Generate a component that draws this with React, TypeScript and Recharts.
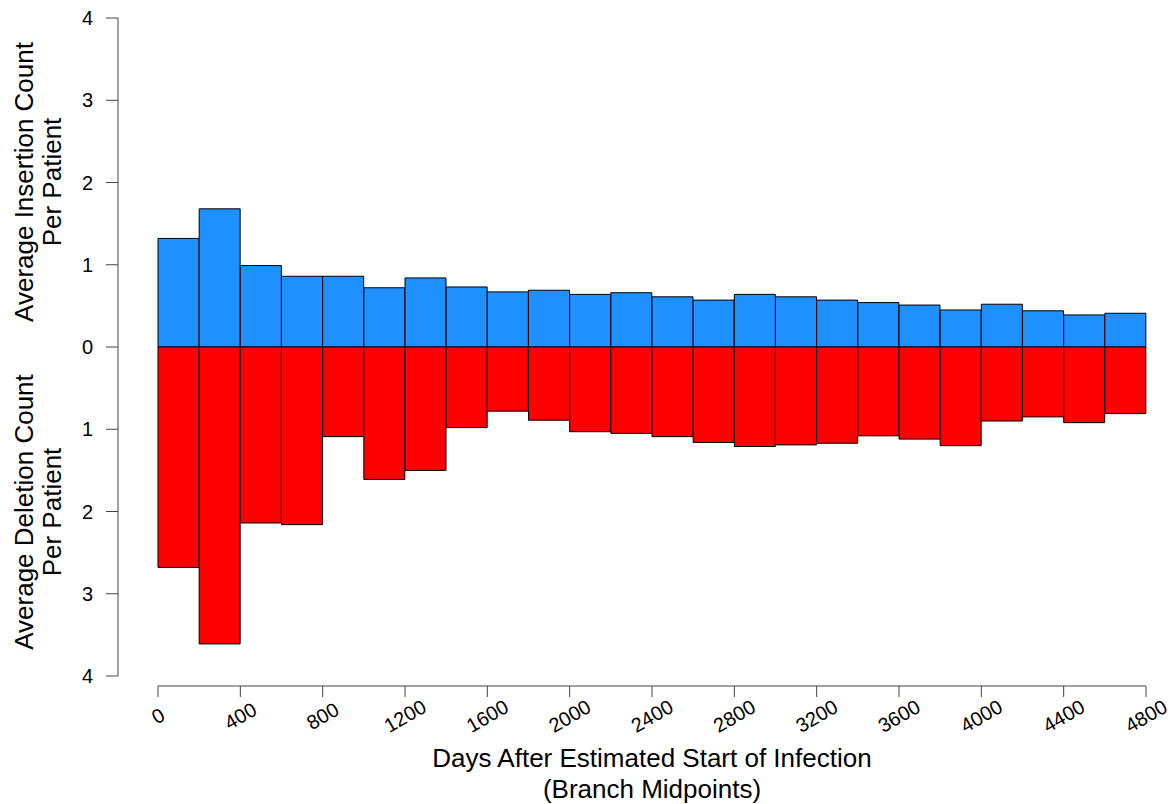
import { BarChart, Bar, XAxis, YAxis } from "recharts";

// branch midpoints (days), one bar per 200-day bin
const midpoints = [
  100, 300, 500, 700, 900, 1100, 1300, 1500, 1700, 1900, 2100, 2300,
  2500, 2700, 2900, 3100, 3300, 3500, 3700, 3900, 4100, 4300, 4500, 4700,
];

const insertions = [
  1.32, 1.68, 0.99, 0.86, 0.86, 0.72, 0.84, 0.73, 0.67, 0.69, 0.64, 0.66,
  0.61, 0.57, 0.64, 0.61, 0.57, 0.54, 0.51, 0.45, 0.52, 0.44, 0.39, 0.41,
];

const deletions = [
  2.68, 3.61, 2.14, 2.16, 1.09, 1.61, 1.5, 0.98, 0.78, 0.89, 1.03, 1.05,
  1.09, 1.16, 1.21, 1.19, 1.17, 1.08, 1.12, 1.2, 0.9, 0.85, 0.92, 0.81,
];

const xTicks = [0, 400, 800, 1200, 1600, 2000, 2400, 2800, 3200, 3600, 4000, 4400, 4800];
const yTicks = [-4, -3, -2, -1, 0, 1, 2, 3, 4];

const data = midpoints.map((mid, i) => ({
  mid,
  ins: insertions[i],
  del: -deletions[i],
}));

const FONT = '"Liberation Sans", Arial, Helvetica, sans-serif';

const XTick = (props: any) => {
  const { x, y, payload } = props;
  const cy = y + 17;
  return (
    <text
      x={x}
      y={cy}
      textAnchor="middle"
      dominantBaseline="central"
      fontSize={20}
      fill="#000"
      fontFamily={FONT}
      transform={`rotate(-30 ${x} ${cy})`}
    >
      {payload.value}
    </text>
  );
};

export default function App() {
  return (
    <div style={{ position: "absolute", left: 0, top: 0, width: 1172, height: 804, background: "#fff" }}>
      <BarChart
        width={1172}
        height={804}
        data={data}
        stackOffset="sign"
        barCategoryGap={0}
        barGap={0}
        margin={{ top: 18, right: 26, bottom: 0, left: 0 }}
        style={{ fontFamily: FONT }}
      >
        <XAxis
          dataKey="mid"
          type="number"
          domain={[0, 4800]}
          ticks={xTicks}
          interval={0}
          padding={{ left: 40, right: 0 }}
          height={118}
          tickSize={11}
          tick={<XTick />}
          tickLine={{ stroke: "#444" }}
          axisLine={{ stroke: "#444", strokeDasharray: "0 40 2000" }}
        />
        <YAxis
          type="number"
          domain={[-4, 4]}
          ticks={yTicks}
          interval={0}
          width={118}
          padding={{ top: 0, bottom: 10 }}
          tickSize={12}
          tickMargin={13}
          tickFormatter={(v: number) => String(Math.abs(v))}
          tick={{ fill: "#000", fontSize: 20 }}
          tickLine={{ stroke: "#444" }}
          axisLine={{ stroke: "#444", strokeDasharray: "658 200" }}
        />
        <Bar dataKey="ins" stackId="a" fill="#1E90FF" stroke="#000" strokeWidth={1} isAnimationActive={false} />
        <Bar dataKey="del" stackId="a" fill="#FF0000" stroke="#000" strokeWidth={1} isAnimationActive={false} />
      </BarChart>

      <svg
        width={1172}
        height={804}
        style={{ position: "absolute", left: 0, top: 0, pointerEvents: "none" }}
        fontFamily={FONT}
        fontSize={26}
        fill="#000"
      >
        <text x={33} y={182} textAnchor="middle" transform="rotate(-90 33 182)">
          Average Insertion Count
        </text>
        <text x={61} y={182} textAnchor="middle" transform="rotate(-90 61 182)">
          Per Patient
        </text>
        <text x={33} y={512} textAnchor="middle" transform="rotate(-90 33 512)">
          Average Deletion Count
        </text>
        <text x={61} y={512} textAnchor="middle" transform="rotate(-90 61 512)">
          Per Patient
        </text>
        <text x={652} y={767} textAnchor="middle">
          Days After Estimated Start of Infection
        </text>
        <text x={652} y={798} textAnchor="middle">
          (Branch Midpoints)
        </text>
      </svg>
    </div>
  );
}
